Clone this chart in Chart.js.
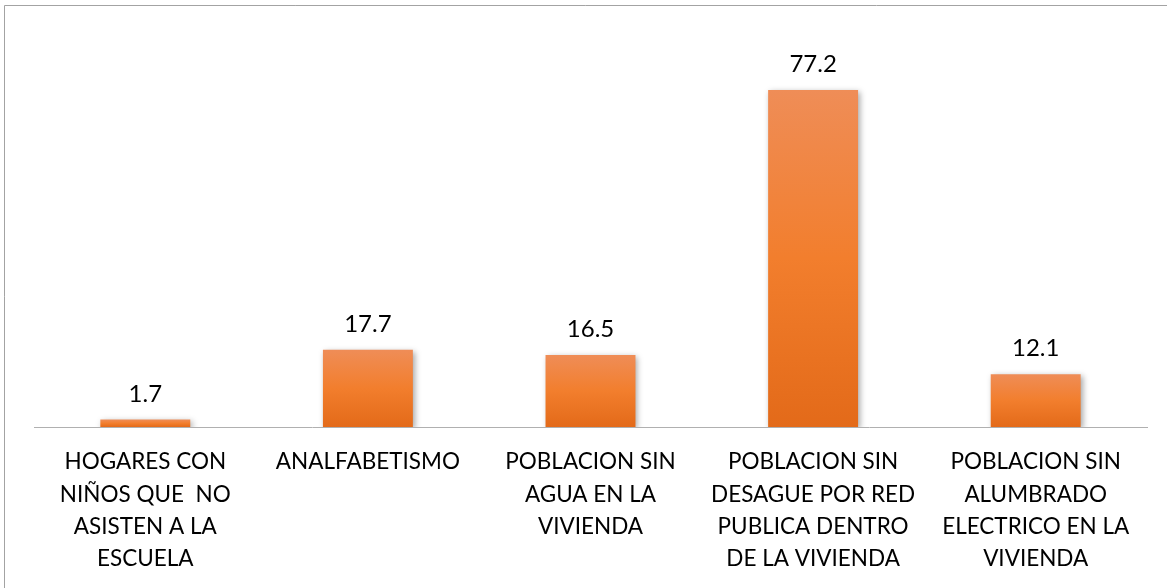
<!DOCTYPE html>
<html lang="es">
<head>
<meta charset="UTF-8">
<title>Indicadores</title>
<script src="https://cdn.jsdelivr.net/npm/chart.js@4.4.1/dist/chart.umd.min.js"></script>
<style>
    html, body { margin: 0; padding: 0; background: #fff; }
    #wrap { position: relative; width: 1167px; height: 588px; }
</style>
</head>
<body>
<div id="wrap"><canvas id="canvas"></canvas></div>
<script>
    const categories = [
        ["HOGARES CON", "NIÑOS QUE  NO", "ASISTEN A LA", "ESCUELA"],
        ["ANALFABETISMO"],
        ["POBLACION SIN", "AGUA EN LA", "VIVIENDA"],
        ["POBLACION SIN", "DESAGUE POR RED", "PUBLICA DENTRO", "DE LA VIVIENDA"],
        ["POBLACION SIN", "ALUMBRADO", "ELECTRICO EN LA", "VIVIENDA"]
    ];
    const values = [1.7, 17.7, 16.5, 77.2, 12.1];

    const fontFamily = "Lato, 'Open Sans', sans-serif";

    // gradient per bar, from its top down to the base
    function barGradient(context) {
        const chart = context.chart;
        const yScale = chart.scales.y;
        if (!yScale || context.raw == null) return "#F07E2C";
        const top = yScale.getPixelForValue(context.raw);
        const base = yScale.getPixelForValue(0);
        if (!isFinite(top) || !isFinite(base) || base - top < 1) return "#F07E2C";
        const g = chart.ctx.createLinearGradient(0, top, 0, base);
        g.addColorStop(0, "#EF8D57");
        g.addColorStop(0.5, "#F27E2D");
        g.addColorStop(1, "#E36A19");
        return g;
    }

    const framePlugin = {
        id: "frame",
        beforeDraw(chart) {
            const ctx = chart.ctx;
            ctx.save();
            ctx.strokeStyle = "#a3a3a3";
            ctx.lineWidth = 1;
            ctx.beginPath();
            ctx.moveTo(4.5, chart.height);
            ctx.lineTo(4.5, 5.5);
            ctx.lineTo(chart.width, 5.5);
            ctx.stroke();
            ctx.restore();
        }
    };

    const shadowPlugin = {
        id: "barShadow",
        beforeDatasetDraw(chart) {
            const ctx = chart.ctx;
            ctx.save();
            ctx.shadowColor = "rgba(0,0,0,0.35)";
            ctx.shadowBlur = 6;
            ctx.shadowOffsetX = 2;
            ctx.shadowOffsetY = 2;
        },
        afterDatasetDraw(chart) {
            chart.ctx.restore();
        }
    };

    const valueLabels = {
        id: "valueLabels",
        afterDatasetsDraw(chart) {
            const ctx = chart.ctx;
            const meta = chart.getDatasetMeta(0);
            ctx.save();
            ctx.font = "24px " + fontFamily;
            ctx.fillStyle = "#000";
            ctx.textAlign = "center";
            ctx.textBaseline = "alphabetic";
            meta.data.forEach((bar, i) => {
                ctx.fillText(values[i].toFixed(1), bar.x, bar.y - 18);
            });
            ctx.restore();
        }
    };

    new Chart(document.getElementById("canvas"), {
        type: "bar",
        data: {
            labels: categories,
            datasets: [{
                data: values,
                backgroundColor: barGradient,
                borderWidth: 0,
                barPercentage: 0.404,
                categoryPercentage: 1
            }]
        },
        options: {
            responsive: true,
            maintainAspectRatio: false,
            animation: false,
            layout: { padding: { left: 34, right: 20, top: 34, bottom: 0 } },
            plugins: {
                legend: { display: false },
                tooltip: { enabled: false }
            },
            scales: {
                x: {
                    grid: { display: false, drawTicks: false },
                    border: { display: true, color: "#b0b0b0", width: 1 },
                    ticks: {
                        color: "#000",
                        padding: 19,
                        maxRotation: 0,
                        autoSkip: false,
                        font: { family: fontFamily, size: 22.5, lineHeight: "32.2px" }
                    },
                    afterFit(scale) { scale.height = 161; }
                },
                y: {
                    display: false,
                    min: 0,
                    max: 90
                }
            }
        },
        plugins: [framePlugin, shadowPlugin, valueLabels]
    });
</script>
</body>
</html>
